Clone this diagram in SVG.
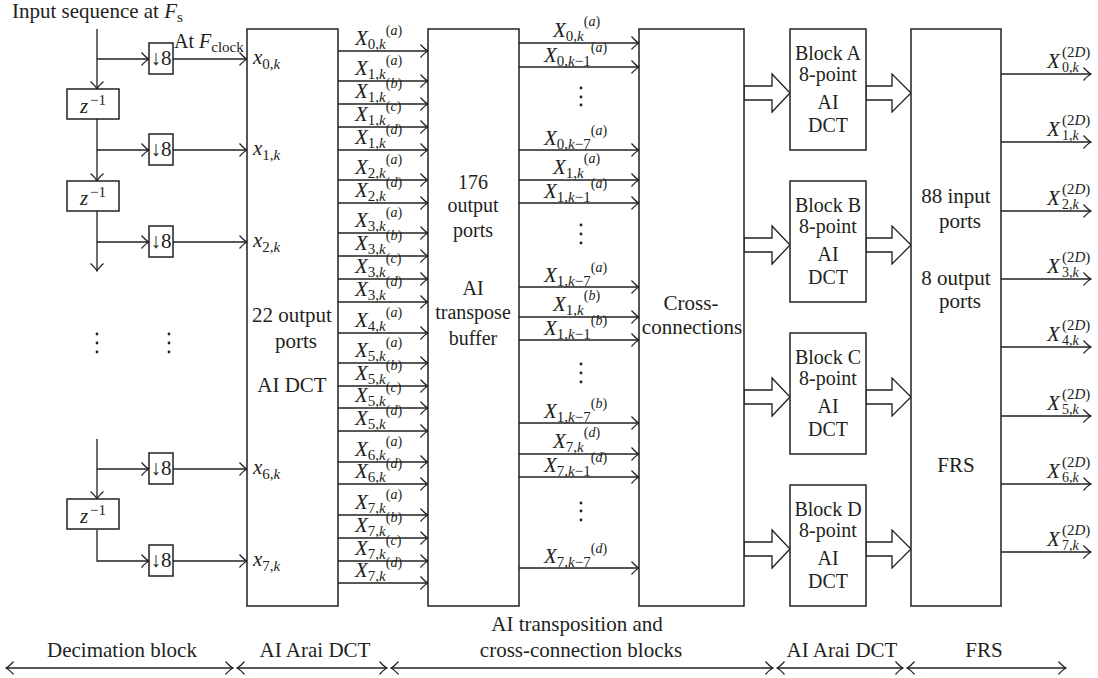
<svg xmlns="http://www.w3.org/2000/svg" width="1098" height="678" viewBox="0 0 1098 678" font-family="Liberation Serif, DejaVu Serif, serif">
<style>
text{font-family:"Liberation Serif","DejaVu Serif",serif;font-size:21px;fill:#231f20}
.box{fill:#fff;stroke:#231f20;stroke-width:1.5}
.ln{fill:none;stroke:#231f20;stroke-width:1.3;marker-end:url(#ah)}
.bi{fill:none;stroke:#231f20;stroke-width:1.3;marker-start:url(#ah);marker-end:url(#ah)}
.i{font-style:italic}
.c{text-anchor:middle}
.sub{font-size:15px}
.sup{font-size:14px}
.t20{font-size:20px}
.blk{fill:#fff;stroke:#231f20;stroke-width:1.3}
.dot{fill:#231f20}
</style>
<defs>
<marker id="ah" markerUnits="userSpaceOnUse" viewBox="-10 -8 12 16" markerWidth="12" markerHeight="16" refX="0" refY="0" orient="auto-start-reverse"><path d="M-7.5,-6.5 Q-3,-1.5 0,0 Q-3,1.5 -7.5,6.5" fill="none" stroke="#231f20" stroke-width="1.2"/></marker>
</defs>

<g id="connectors">
<path class="ln" d="M97,29 V89"/>
<path class="ln" d="M97,59 H149"/>
<path class="ln" d="M173,59 H247"/>
<path class="ln" d="M97,119 V181"/>
<path class="ln" d="M97,150 H149"/>
<path class="ln" d="M173,150 H247"/>
<path class="ln" d="M97,211 V271"/>
<path class="ln" d="M97,242 H149"/>
<path class="ln" d="M173,242 H247"/>
<path class="ln" d="M97,439 V499"/>
<path class="ln" d="M97,469 H149"/>
<path class="ln" d="M173,469 H247"/>
<path class="ln" d="M97,530 V561 H149"/>
<path class="ln" d="M173,561 H247"/>
<path class="ln" d="M338,51 H428"/>
<path class="ln" d="M338,81 H428"/>
<path class="ln" d="M338,104 H428"/>
<path class="ln" d="M338,127 H428"/>
<path class="ln" d="M338,150 H428"/>
<path class="ln" d="M338,180 H428"/>
<path class="ln" d="M338,203 H428"/>
<path class="ln" d="M338,233 H428"/>
<path class="ln" d="M338,256 H428"/>
<path class="ln" d="M338,279 H428"/>
<path class="ln" d="M338,302 H428"/>
<path class="ln" d="M338,333 H428"/>
<path class="ln" d="M338,363 H428"/>
<path class="ln" d="M338,386 H428"/>
<path class="ln" d="M338,408 H428"/>
<path class="ln" d="M338,431 H428"/>
<path class="ln" d="M338,462 H428"/>
<path class="ln" d="M338,484 H428"/>
<path class="ln" d="M338,515 H428"/>
<path class="ln" d="M338,538 H428"/>
<path class="ln" d="M338,561 H428"/>
<path class="ln" d="M338,583 H428"/>
<path class="ln" d="M519,43 H639"/>
<path class="ln" d="M519,67 H639"/>
<path class="ln" d="M519,150 H639"/>
<path class="ln" d="M519,180 H639"/>
<path class="ln" d="M519,203 H639"/>
<path class="ln" d="M519,287 H639"/>
<path class="ln" d="M519,317 H639"/>
<path class="ln" d="M519,340 H639"/>
<path class="ln" d="M519,423 H639"/>
<path class="ln" d="M519,454 H639"/>
<path class="ln" d="M519,477 H639"/>
<path class="ln" d="M519,568 H639"/>
<polygon class="blk" points="744,86 772,86 772,74 790,93 772,112 772,100 744,100"/>
<polygon class="blk" points="744,238 772,238 772,226 790,245 772,264 772,252 744,252"/>
<polygon class="blk" points="744,390 772,390 772,378 790,397 772,416 772,404 744,404"/>
<polygon class="blk" points="744,542 772,542 772,530 790,549 772,568 772,556 744,556"/>
<polygon class="blk" points="866,86 892,86 892,74 911,93 892,112 892,100 866,100"/>
<polygon class="blk" points="866,238 892,238 892,226 911,245 892,264 892,252 866,252"/>
<polygon class="blk" points="866,390 892,390 892,378 911,397 892,416 892,404 866,404"/>
<polygon class="blk" points="866,542 892,542 892,530 911,549 892,568 892,556 866,556"/>
<path class="ln" d="M1001,74 H1091"/>
<path class="ln" d="M1001,142 H1091"/>
<path class="ln" d="M1001,211 H1091"/>
<path class="ln" d="M1001,279 H1091"/>
<path class="ln" d="M1001,347 H1091"/>
<path class="ln" d="M1001,416 H1091"/>
<path class="ln" d="M1001,484 H1091"/>
<path class="ln" d="M1001,552 H1091"/>
<path class="bi" d="M6,668 H233"/>
<path class="bi" d="M237,668 H387"/>
<path class="bi" d="M391,668 H773"/>
<path class="bi" d="M777,668 H903"/>
<path class="bi" d="M907,668 H1066"/>
</g>

<text x="12" y="18">Input sequence at <tspan class="i">F</tspan><tspan class="sub" dy="4">s</tspan></text>
<text x="174" y="48" class="t20">At <tspan class="i">F</tspan><tspan class="sub" dy="4">clock</tspan></text>

<g id="z1"><rect class="box" x="67" y="89" width="52" height="30"/><text x="80" y="113" class="i">z</text><text x="90" y="105" class="sub">−1</text></g>
<g id="z2"><rect class="box" x="67" y="181" width="52" height="30"/><text x="80" y="205" class="i">z</text><text x="90" y="197" class="sub">−1</text></g>
<g id="z3"><rect class="box" x="67" y="499" width="52" height="30"/><text x="80" y="523" class="i">z</text><text x="90" y="515" class="sub">−1</text></g>

<g id="d0"><rect class="box" x="149" y="43" width="24" height="31"/><text x="161" y="65" class="c">↓8</text></g>
<g id="d1"><rect class="box" x="149" y="134" width="24" height="31"/><text x="161" y="156" class="c">↓8</text></g>
<g id="d2"><rect class="box" x="149" y="226" width="24" height="31"/><text x="161" y="248" class="c">↓8</text></g>
<g id="d6"><rect class="box" x="149" y="453" width="24" height="31"/><text x="161" y="475" class="c">↓8</text></g>
<g id="d7"><rect class="box" x="149" y="545" width="24" height="31"/><text x="161" y="567" class="c">↓8</text></g>

<g id="dots">
<circle class="dot" cx="97" cy="334" r="1.4"/><circle class="dot" cx="97" cy="343" r="1.4"/><circle class="dot" cx="97" cy="352" r="1.4"/>
<circle class="dot" cx="169" cy="334" r="1.4"/><circle class="dot" cx="169" cy="343" r="1.4"/><circle class="dot" cx="169" cy="352" r="1.4"/>
<circle class="dot" cx="581" cy="88" r="1.4"/><circle class="dot" cx="581" cy="97" r="1.4"/><circle class="dot" cx="581" cy="105" r="1.4"/>
<circle class="dot" cx="581" cy="225" r="1.4"/><circle class="dot" cx="581" cy="234" r="1.4"/><circle class="dot" cx="581" cy="243" r="1.4"/>
<circle class="dot" cx="581" cy="364" r="1.4"/><circle class="dot" cx="581" cy="373" r="1.4"/><circle class="dot" cx="581" cy="382" r="1.4"/>
<circle class="dot" cx="581" cy="503" r="1.4"/><circle class="dot" cx="581" cy="511" r="1.4"/><circle class="dot" cx="581" cy="520" r="1.4"/>
</g>

<g id="dct">
<rect class="box" x="247" y="29" width="91" height="577"/>
<text x="292" y="322" class="c">22 output</text>
<text x="296" y="348" class="c">ports</text>
<text x="292" y="392" class="c">AI DCT</text>
<text x="253" y="64"><tspan class="i">x</tspan><tspan class="sub" dy="5">0,<tspan class="i">k</tspan></tspan></text>
<text x="253" y="155"><tspan class="i">x</tspan><tspan class="sub" dy="5">1,<tspan class="i">k</tspan></tspan></text>
<text x="253" y="247"><tspan class="i">x</tspan><tspan class="sub" dy="5">2,<tspan class="i">k</tspan></tspan></text>
<text x="253" y="474"><tspan class="i">x</tspan><tspan class="sub" dy="5">6,<tspan class="i">k</tspan></tspan></text>
<text x="253" y="566"><tspan class="i">x</tspan><tspan class="sub" dy="5">7,<tspan class="i">k</tspan></tspan></text>
</g>

<g id="dct-labels">
<text x="355" y="45"><tspan class="i">X</tspan><tspan class="sub" dy="4">0,<tspan class="i">k</tspan></tspan><tspan class="sup" dy="-14">(<tspan class="i">a</tspan>)</tspan></text>
<text x="355" y="75"><tspan class="i">X</tspan><tspan class="sub" dy="4">1,<tspan class="i">k</tspan></tspan><tspan class="sup" dy="-14">(<tspan class="i">a</tspan>)</tspan></text>
<text x="355" y="98"><tspan class="i">X</tspan><tspan class="sub" dy="4">1,<tspan class="i">k</tspan></tspan><tspan class="sup" dy="-14">(<tspan class="i">b</tspan>)</tspan></text>
<text x="355" y="121"><tspan class="i">X</tspan><tspan class="sub" dy="4">1,<tspan class="i">k</tspan></tspan><tspan class="sup" dy="-14">(<tspan class="i">c</tspan>)</tspan></text>
<text x="355" y="144"><tspan class="i">X</tspan><tspan class="sub" dy="4">1,<tspan class="i">k</tspan></tspan><tspan class="sup" dy="-14">(<tspan class="i">d</tspan>)</tspan></text>
<text x="355" y="174"><tspan class="i">X</tspan><tspan class="sub" dy="4">2,<tspan class="i">k</tspan></tspan><tspan class="sup" dy="-14">(<tspan class="i">a</tspan>)</tspan></text>
<text x="355" y="197"><tspan class="i">X</tspan><tspan class="sub" dy="4">2,<tspan class="i">k</tspan></tspan><tspan class="sup" dy="-14">(<tspan class="i">d</tspan>)</tspan></text>
<text x="355" y="227"><tspan class="i">X</tspan><tspan class="sub" dy="4">3,<tspan class="i">k</tspan></tspan><tspan class="sup" dy="-14">(<tspan class="i">a</tspan>)</tspan></text>
<text x="355" y="250"><tspan class="i">X</tspan><tspan class="sub" dy="4">3,<tspan class="i">k</tspan></tspan><tspan class="sup" dy="-14">(<tspan class="i">b</tspan>)</tspan></text>
<text x="355" y="273"><tspan class="i">X</tspan><tspan class="sub" dy="4">3,<tspan class="i">k</tspan></tspan><tspan class="sup" dy="-14">(<tspan class="i">c</tspan>)</tspan></text>
<text x="355" y="296"><tspan class="i">X</tspan><tspan class="sub" dy="4">3,<tspan class="i">k</tspan></tspan><tspan class="sup" dy="-14">(<tspan class="i">d</tspan>)</tspan></text>
<text x="355" y="327"><tspan class="i">X</tspan><tspan class="sub" dy="4">4,<tspan class="i">k</tspan></tspan><tspan class="sup" dy="-14">(<tspan class="i">a</tspan>)</tspan></text>
<text x="355" y="357"><tspan class="i">X</tspan><tspan class="sub" dy="4">5,<tspan class="i">k</tspan></tspan><tspan class="sup" dy="-14">(<tspan class="i">a</tspan>)</tspan></text>
<text x="355" y="380"><tspan class="i">X</tspan><tspan class="sub" dy="4">5,<tspan class="i">k</tspan></tspan><tspan class="sup" dy="-14">(<tspan class="i">b</tspan>)</tspan></text>
<text x="355" y="402"><tspan class="i">X</tspan><tspan class="sub" dy="4">5,<tspan class="i">k</tspan></tspan><tspan class="sup" dy="-14">(<tspan class="i">c</tspan>)</tspan></text>
<text x="355" y="425"><tspan class="i">X</tspan><tspan class="sub" dy="4">5,<tspan class="i">k</tspan></tspan><tspan class="sup" dy="-14">(<tspan class="i">d</tspan>)</tspan></text>
<text x="355" y="456"><tspan class="i">X</tspan><tspan class="sub" dy="4">6,<tspan class="i">k</tspan></tspan><tspan class="sup" dy="-14">(<tspan class="i">a</tspan>)</tspan></text>
<text x="355" y="478"><tspan class="i">X</tspan><tspan class="sub" dy="4">6,<tspan class="i">k</tspan></tspan><tspan class="sup" dy="-14">(<tspan class="i">d</tspan>)</tspan></text>
<text x="355" y="509"><tspan class="i">X</tspan><tspan class="sub" dy="4">7,<tspan class="i">k</tspan></tspan><tspan class="sup" dy="-14">(<tspan class="i">a</tspan>)</tspan></text>
<text x="355" y="532"><tspan class="i">X</tspan><tspan class="sub" dy="4">7,<tspan class="i">k</tspan></tspan><tspan class="sup" dy="-14">(<tspan class="i">b</tspan>)</tspan></text>
<text x="355" y="555"><tspan class="i">X</tspan><tspan class="sub" dy="4">7,<tspan class="i">k</tspan></tspan><tspan class="sup" dy="-14">(<tspan class="i">c</tspan>)</tspan></text>
<text x="355" y="577"><tspan class="i">X</tspan><tspan class="sub" dy="4">7,<tspan class="i">k</tspan></tspan><tspan class="sup" dy="-14">(<tspan class="i">d</tspan>)</tspan></text>
</g>

<g id="transpose">
<rect class="box" x="428" y="29" width="91" height="577"/>
<text x="473" y="189" class="c t20">176</text>
<text x="473" y="212" class="c t20">output</text>
<text x="473" y="237" class="c t20">ports</text>
<text x="473" y="295" class="c t20">AI</text>
<text x="473" y="319" class="c t20">transpose</text>
<text x="473" y="345" class="c t20">buffer</text>
</g>

<g id="transpose-labels">
<text x="553" y="37"><tspan class="i">X</tspan><tspan class="sub" dy="4">0,<tspan class="i">k</tspan></tspan><tspan class="sup" dy="-15">(<tspan class="i">a</tspan>)</tspan></text>
<text x="544" y="62"><tspan class="i">X</tspan><tspan class="sub" dy="4">0,<tspan class="i">k</tspan>−1</tspan><tspan class="sup" dy="-14">(<tspan class="i">a</tspan>)</tspan></text>
<text x="544" y="145"><tspan class="i">X</tspan><tspan class="sub" dy="4">0,<tspan class="i">k</tspan>−7</tspan><tspan class="sup" dy="-14">(<tspan class="i">a</tspan>)</tspan></text>
<text x="553" y="174"><tspan class="i">X</tspan><tspan class="sub" dy="4">1,<tspan class="i">k</tspan></tspan><tspan class="sup" dy="-15">(<tspan class="i">a</tspan>)</tspan></text>
<text x="544" y="198"><tspan class="i">X</tspan><tspan class="sub" dy="4">1,<tspan class="i">k</tspan>−1</tspan><tspan class="sup" dy="-14">(<tspan class="i">a</tspan>)</tspan></text>
<text x="544" y="282"><tspan class="i">X</tspan><tspan class="sub" dy="4">1,<tspan class="i">k</tspan>−7</tspan><tspan class="sup" dy="-14">(<tspan class="i">a</tspan>)</tspan></text>
<text x="553" y="311"><tspan class="i">X</tspan><tspan class="sub" dy="4">1,<tspan class="i">k</tspan></tspan><tspan class="sup" dy="-15">(<tspan class="i">b</tspan>)</tspan></text>
<text x="544" y="335"><tspan class="i">X</tspan><tspan class="sub" dy="4">1,<tspan class="i">k</tspan>−1</tspan><tspan class="sup" dy="-14">(<tspan class="i">b</tspan>)</tspan></text>
<text x="544" y="418"><tspan class="i">X</tspan><tspan class="sub" dy="4">1,<tspan class="i">k</tspan>−7</tspan><tspan class="sup" dy="-14">(<tspan class="i">b</tspan>)</tspan></text>
<text x="553" y="448"><tspan class="i">X</tspan><tspan class="sub" dy="4">7,<tspan class="i">k</tspan></tspan><tspan class="sup" dy="-15">(<tspan class="i">d</tspan>)</tspan></text>
<text x="544" y="472"><tspan class="i">X</tspan><tspan class="sub" dy="4">7,<tspan class="i">k</tspan>−1</tspan><tspan class="sup" dy="-14">(<tspan class="i">d</tspan>)</tspan></text>
<text x="544" y="563"><tspan class="i">X</tspan><tspan class="sub" dy="4">7,<tspan class="i">k</tspan>−7</tspan><tspan class="sup" dy="-14">(<tspan class="i">d</tspan>)</tspan></text>
</g>

<g id="cross">
<rect class="box" x="639" y="29" width="105" height="577"/>
<text x="691" y="310" class="c">Cross-</text>
<text x="692" y="334" class="c">connections</text>
</g>

<g id="blockA"><rect class="box" x="790" y="29" width="76" height="121"/><text x="828" y="60" class="c t20">Block A</text><text x="828" y="81" class="c t20">8-point</text><text x="828" y="109" class="c t20">AI</text><text x="828" y="132" class="c t20">DCT</text></g>
<g id="blockB"><rect class="box" x="790" y="181" width="76" height="121"/><text x="828" y="212" class="c t20">Block B</text><text x="828" y="233" class="c t20">8-point</text><text x="828" y="261" class="c t20">AI</text><text x="828" y="284" class="c t20">DCT</text></g>
<g id="blockC"><rect class="box" x="790" y="333" width="76" height="121"/><text x="828" y="364" class="c t20">Block C</text><text x="828" y="385" class="c t20">8-point</text><text x="828" y="413" class="c t20">AI</text><text x="828" y="436" class="c t20">DCT</text></g>
<g id="blockD"><rect class="box" x="790" y="485" width="76" height="121"/><text x="828" y="516" class="c t20">Block D</text><text x="828" y="537" class="c t20">8-point</text><text x="828" y="565" class="c t20">AI</text><text x="828" y="588" class="c t20">DCT</text></g>

<g id="frs">
<rect class="box" x="911" y="29" width="90" height="577"/>
<text x="956" y="203" class="c">88 input</text>
<text x="960" y="228" class="c">ports</text>
<text x="956" y="285" class="c">8 output</text>
<text x="960" y="308" class="c">ports</text>
<text x="956" y="472" class="c">FRS</text>
</g>

<g id="frs-labels">
<text x="1047" y="68"><tspan class="i">X</tspan><tspan x="1062" y="57" class="sub">(2<tspan class="i">D</tspan>)</tspan><tspan x="1062" y="72" class="sup">0,<tspan class="i">k</tspan></tspan></text>
<text x="1047" y="136"><tspan class="i">X</tspan><tspan x="1062" y="125" class="sub">(2<tspan class="i">D</tspan>)</tspan><tspan x="1062" y="140" class="sup">1,<tspan class="i">k</tspan></tspan></text>
<text x="1047" y="205"><tspan class="i">X</tspan><tspan x="1062" y="194" class="sub">(2<tspan class="i">D</tspan>)</tspan><tspan x="1062" y="209" class="sup">2,<tspan class="i">k</tspan></tspan></text>
<text x="1047" y="273"><tspan class="i">X</tspan><tspan x="1062" y="262" class="sub">(2<tspan class="i">D</tspan>)</tspan><tspan x="1062" y="277" class="sup">3,<tspan class="i">k</tspan></tspan></text>
<text x="1047" y="341"><tspan class="i">X</tspan><tspan x="1062" y="330" class="sub">(2<tspan class="i">D</tspan>)</tspan><tspan x="1062" y="345" class="sup">4,<tspan class="i">k</tspan></tspan></text>
<text x="1047" y="410"><tspan class="i">X</tspan><tspan x="1062" y="399" class="sub">(2<tspan class="i">D</tspan>)</tspan><tspan x="1062" y="414" class="sup">5,<tspan class="i">k</tspan></tspan></text>
<text x="1047" y="478"><tspan class="i">X</tspan><tspan x="1062" y="467" class="sub">(2<tspan class="i">D</tspan>)</tspan><tspan x="1062" y="482" class="sup">6,<tspan class="i">k</tspan></tspan></text>
<text x="1047" y="546"><tspan class="i">X</tspan><tspan x="1062" y="535" class="sub">(2<tspan class="i">D</tspan>)</tspan><tspan x="1062" y="550" class="sup">7,<tspan class="i">k</tspan></tspan></text>
</g>

<g id="bottom-labels">
<text x="577" y="631" class="c">AI transposition and</text>
<text x="122" y="657" class="c">Decimation block</text>
<text x="315" y="657" class="c">AI Arai DCT</text>
<text x="581" y="657" class="c">cross-connection blocks</text>
<text x="842" y="657" class="c">AI Arai DCT</text>
<text x="984" y="657" class="c">FRS</text>
</g>
</svg>
